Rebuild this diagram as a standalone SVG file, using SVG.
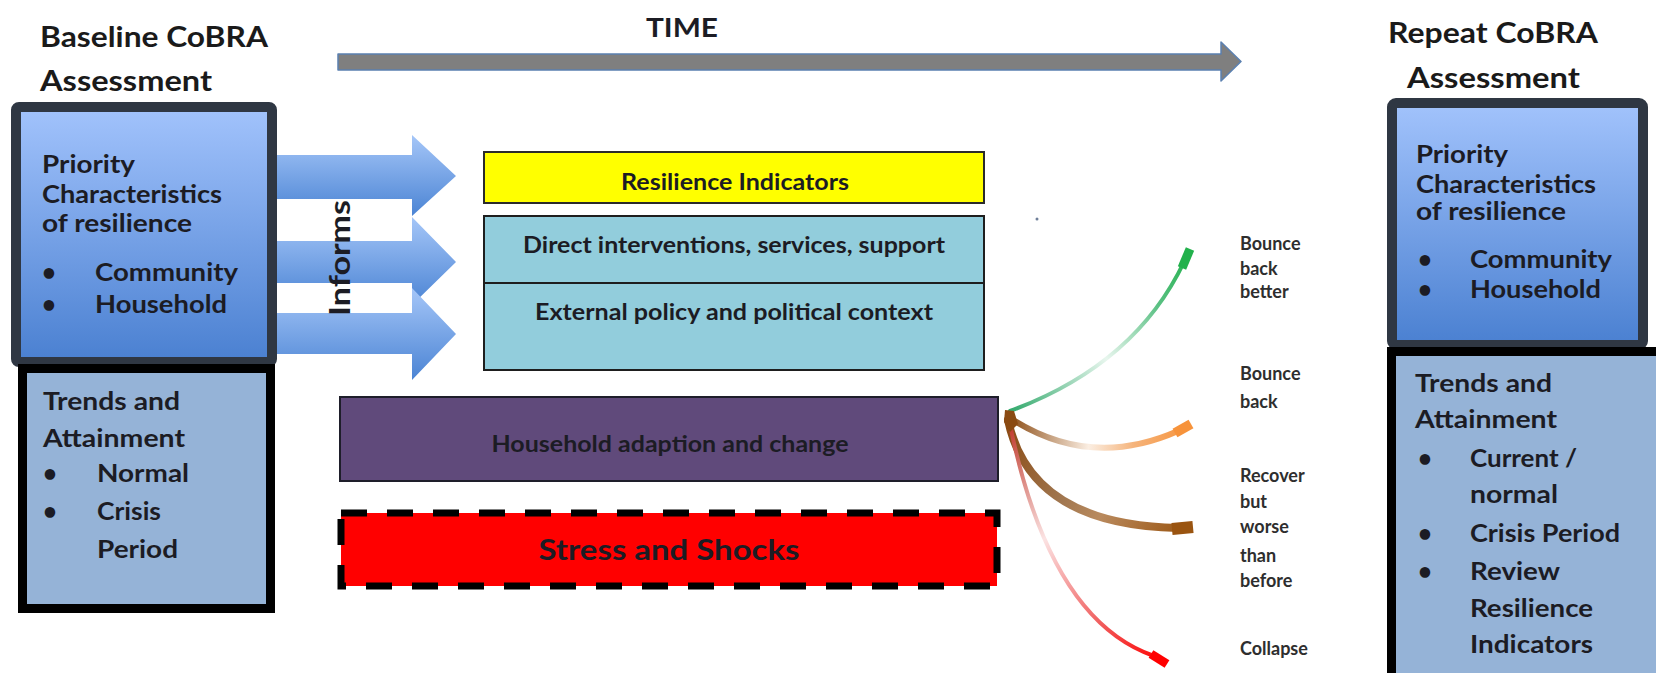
<svg xmlns="http://www.w3.org/2000/svg" width="1656" height="673" viewBox="0 0 1656 673">
  <style>
    text { font-family: Lato, "Open Sans", "Liberation Sans", sans-serif; font-weight: bold; fill: #1c1c24; }
    .hdr { font-size: 28px; fill: #1a1a1a; }
    .box { font-size: 24px; }
    .mid { font-size: 22px; text-anchor: middle; }
    .lbl { font-size: 18px; fill: #2e2e2e; }
    .prio { stroke: #2f3743; stroke-width: 10; fill: url(#prioFill); }
    .trend { stroke: #000; stroke-width: 9; fill: #95b3d7; }
    .inform { fill: url(#informFill); }
  </style>
  <defs>
    <linearGradient id="prioFill" x1="0" y1="0" x2="0" y2="1">
      <stop offset="0" stop-color="#a2c3fc"/>
      <stop offset="1" stop-color="#4a80d1"/>
    </linearGradient>
    <linearGradient id="informFill" x1="0" y1="0" x2="0" y2="1">
      <stop offset="0" stop-color="#a5c6f8"/>
      <stop offset="1" stop-color="#4b84d4"/>
    </linearGradient>
    <linearGradient id="gGreen" gradientUnits="userSpaceOnUse" x1="1008" y1="412" x2="1190" y2="252">
      <stop offset="0" stop-color="#2fa86a"/>
      <stop offset="0.45" stop-color="#e8f6ee"/>
      <stop offset="0.75" stop-color="#5cc185"/>
      <stop offset="1" stop-color="#22b14c"/>
    </linearGradient>
    <linearGradient id="gOrange" gradientUnits="userSpaceOnUse" x1="1008" y1="418" x2="1190" y2="428">
      <stop offset="0" stop-color="#8a4a12"/>
      <stop offset="0.45" stop-color="#fbeee2"/>
      <stop offset="0.7" stop-color="#f5b37a"/>
      <stop offset="1" stop-color="#f7933b"/>
    </linearGradient>
    <linearGradient id="gBrown" gradientUnits="userSpaceOnUse" x1="1008" y1="420" x2="1192" y2="528">
      <stop offset="0" stop-color="#8a4a12"/>
      <stop offset="0.4" stop-color="#a0764f"/>
      <stop offset="0.6" stop-color="#b98a5e"/>
      <stop offset="1" stop-color="#9a5410"/>
    </linearGradient>
    <linearGradient id="gRed" gradientUnits="userSpaceOnUse" x1="1010" y1="425" x2="1167" y2="662">
      <stop offset="0" stop-color="#c0392b"/>
      <stop offset="0.4" stop-color="#fbe3e3"/>
      <stop offset="0.75" stop-color="#f06060"/>
      <stop offset="1" stop-color="#ff0000"/>
    </linearGradient>
  </defs>

  <rect width="1656" height="673" fill="#ffffff"/>

  <!-- time axis -->
  <g id="time">
    <polygon points="338,54 1221,54 1221,42 1241,61.5 1221,81 1221,70 338,70" fill="#7f7f7f" stroke="#5b80b0" stroke-width="1.5" stroke-linejoin="round"/>
    <text x="682" y="37" font-size="26" text-anchor="middle" textLength="72" lengthAdjust="spacingAndGlyphs" fill="#1a1a1a">TIME</text>
  </g>

  <!-- "informs" block arrows -->
  <g id="informs">
    <polygon class="inform" points="268,155 412,155 412,135 456,176 412,216 412,199 268,199"/>
    <polygon class="inform" points="268,241 412,241 412,217 456,262 412,305 412,283 268,283"/>
    <polygon class="inform" points="268,313 412,313 412,288 456,334 412,380 412,354 268,354"/>
    <text transform="translate(350,258) rotate(-90)" font-size="28" text-anchor="middle" textLength="116" lengthAdjust="spacingAndGlyphs">Informs</text>
  </g>

  <!-- baseline assessment -->
  <g id="baseline">
    <text class="hdr" x="40" y="47" textLength="228" lengthAdjust="spacingAndGlyphs">Baseline CoBRA</text>
    <text class="hdr" x="40" y="91" textLength="172" lengthAdjust="spacingAndGlyphs">Assessment</text>
    <rect class="prio" x="16" y="107" width="256" height="255" rx="3"/>
    <text class="box" x="42" y="173" textLength="93" lengthAdjust="spacingAndGlyphs">Priority</text>
    <text class="box" x="42" y="203" textLength="180" lengthAdjust="spacingAndGlyphs">Characteristics</text>
    <text class="box" x="42" y="232" textLength="150" lengthAdjust="spacingAndGlyphs">of resilience</text>
    <text class="box" x="42" y="281">•</text>
    <text class="box" x="95" y="281" textLength="143" lengthAdjust="spacingAndGlyphs">Community</text>
    <text class="box" x="42" y="313">•</text>
    <text class="box" x="95" y="313" textLength="132" lengthAdjust="spacingAndGlyphs">Household</text>
  </g>

  <g id="baseline-trends">
    <rect class="trend" x="22.5" y="368.5" width="248" height="240"/>
    <text class="box" x="43" y="410" textLength="137" lengthAdjust="spacingAndGlyphs">Trends and</text>
    <text class="box" x="43" y="447" textLength="142" lengthAdjust="spacingAndGlyphs">Attainment</text>
    <text class="box" x="43" y="482">•</text>
    <text class="box" x="97" y="482" textLength="92" lengthAdjust="spacingAndGlyphs">Normal</text>
    <text class="box" x="43" y="520">•</text>
    <text class="box" x="97" y="520" textLength="64" lengthAdjust="spacingAndGlyphs">Crisis</text>
    <text class="box" x="97" y="558" textLength="81" lengthAdjust="spacingAndGlyphs">Period</text>
  </g>

  <!-- central layers -->
  <g id="indicators">
    <rect x="484" y="152" width="500" height="51" fill="#ffff00" stroke="#2b2b2b" stroke-width="2"/>
    <text class="mid" x="735" y="190" textLength="228" lengthAdjust="spacingAndGlyphs">Resilience Indicators</text>
  </g>

  <g id="context">
    <rect x="484" y="216" width="500" height="154" fill="#92cddc" stroke="#1e1e1e" stroke-width="2"/>
    <line x1="484" y1="283" x2="984" y2="283" stroke="#1e1e1e" stroke-width="2"/>
    <text class="mid" x="734" y="253" textLength="422" lengthAdjust="spacingAndGlyphs">Direct interventions, services, support</text>
    <text class="mid" x="734" y="320" textLength="398" lengthAdjust="spacingAndGlyphs">External policy and political context</text>
  </g>

  <g id="adaption">
    <rect x="340" y="397" width="658" height="84" fill="#604a7b" stroke="#1e1e2a" stroke-width="2"/>
    <text class="mid" x="670" y="452" fill="#1a1a33" textLength="357" lengthAdjust="spacingAndGlyphs">Household adaption and change</text>
  </g>

  <g id="shocks">
    <rect x="341" y="513" width="656" height="73" fill="#ff0000" stroke="#000" stroke-width="7" stroke-dasharray="26 20"/>
    <text x="669" y="560" font-size="28" text-anchor="middle" fill="#5c0000" textLength="261" lengthAdjust="spacingAndGlyphs">Stress and Shocks</text>
  </g>

  <!-- outcome pathways -->
  <g id="pathways" fill="none" stroke-linecap="round">
    <path d="M1010,411 Q1135,365 1184,262" stroke="url(#gGreen)" stroke-width="4"/>
    <path d="M1010,418 Q1090,470 1178,431" stroke="url(#gOrange)" stroke-width="6"/>
    <path d="M1008,420 Q1030,525 1178,528" stroke="url(#gBrown)" stroke-width="8"/>
    <path d="M1010,425 Q1050,620 1154,656" stroke="url(#gRed)" stroke-width="4"/>
    <!-- blunt arrow ends -->
    <path d="M1182,268 L1190,249" stroke="#22b14c" stroke-width="9" stroke-linecap="butt"/>
    <path d="M1175,433 L1191,424" stroke="#f7933b" stroke-width="10" stroke-linecap="butt"/>
    <path d="M1172,529 L1193,527" stroke="#9a5410" stroke-width="12" stroke-linecap="butt"/>
    <path d="M1151,654 L1167,664" stroke="#ff0000" stroke-width="9" stroke-linecap="butt"/>
    <!-- common origin -->
    <path d="M1005,410 L1014,411 L1018,424 L1010,432 L1004,422 Z" fill="#8a4a12"/>
    <circle cx="1037" cy="219" r="1.5" fill="#6f7f99"/>
  </g>

  <g id="outcome-labels">
    <text class="lbl" x="1240" y="250">Bounce</text>
    <text class="lbl" x="1240" y="275">back</text>
    <text class="lbl" x="1240" y="298">better</text>
    <text class="lbl" x="1240" y="380">Bounce</text>
    <text class="lbl" x="1240" y="408">back</text>
    <text class="lbl" x="1240" y="482">Recover</text>
    <text class="lbl" x="1240" y="508">but</text>
    <text class="lbl" x="1240" y="533">worse</text>
    <text class="lbl" x="1240" y="562">than</text>
    <text class="lbl" x="1240" y="587">before</text>
    <text class="lbl" x="1240" y="655">Collapse</text>
  </g>

  <!-- repeat assessment -->
  <g id="repeat">
    <text class="hdr" x="1388" y="43" textLength="210" lengthAdjust="spacingAndGlyphs">Repeat CoBRA</text>
    <text class="hdr" x="1407" y="88" textLength="173" lengthAdjust="spacingAndGlyphs">Assessment</text>
    <rect class="prio" x="1392" y="103" width="251" height="242" rx="4"/>
    <text class="box" x="1416" y="163" textLength="92" lengthAdjust="spacingAndGlyphs">Priority</text>
    <text class="box" x="1416" y="193" textLength="180" lengthAdjust="spacingAndGlyphs">Characteristics</text>
    <text class="box" x="1416" y="220" textLength="150" lengthAdjust="spacingAndGlyphs">of resilience</text>
    <text class="box" x="1418" y="268">•</text>
    <text class="box" x="1470" y="268" textLength="142" lengthAdjust="spacingAndGlyphs">Community</text>
    <text class="box" x="1418" y="298">•</text>
    <text class="box" x="1470" y="298" textLength="131" lengthAdjust="spacingAndGlyphs">Household</text>
  </g>

  <g id="repeat-trends">
    <rect class="trend" x="1391.5" y="351.5" width="300" height="330"/>
    <text class="box" x="1415" y="392" textLength="137" lengthAdjust="spacingAndGlyphs">Trends and</text>
    <text class="box" x="1415" y="428" textLength="142" lengthAdjust="spacingAndGlyphs">Attainment</text>
    <text class="box" x="1418" y="467">•</text>
    <text class="box" x="1470" y="467" textLength="107" lengthAdjust="spacingAndGlyphs">Current /</text>
    <text class="box" x="1470" y="503" textLength="88" lengthAdjust="spacingAndGlyphs">normal</text>
    <text class="box" x="1418" y="542">•</text>
    <text class="box" x="1470" y="542" textLength="150" lengthAdjust="spacingAndGlyphs">Crisis Period</text>
    <text class="box" x="1418" y="580">•</text>
    <text class="box" x="1470" y="580" textLength="90" lengthAdjust="spacingAndGlyphs">Review</text>
    <text class="box" x="1470" y="617" textLength="123" lengthAdjust="spacingAndGlyphs">Resilience</text>
    <text class="box" x="1470" y="653" textLength="123" lengthAdjust="spacingAndGlyphs">Indicators</text>
  </g>
</svg>
